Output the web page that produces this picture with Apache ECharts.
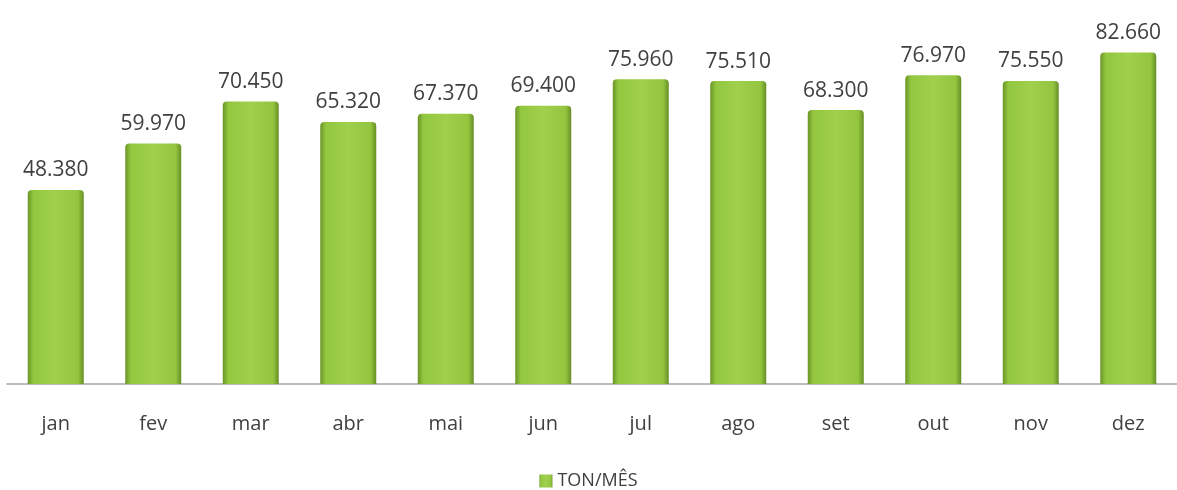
<!DOCTYPE html>
<html>
<head>
<meta charset="utf-8">
<script src="https://cdn.jsdelivr.net/npm/echarts@6/dist/echarts.min.js"></script>
<style>html,body{margin:0;padding:0;background:#fff}#c{width:1177px;height:490px}</style>
</head>
<body>
<div id="c"></div>
<script>
const categories = ['jan','fev','mar','abr','mai','jun','jul','ago','set','out','nov','dez'];
const tonMes = [48380, 59970, 70450, 65320, 67370, 69400, 75960, 75510, 68300, 76970, 75550, 82660];
const seriesName = 'TON/MÊS';

function fmt(v){ return String(v).replace(/\B(?=(\d{3})+(?!\d))/g, '.'); }

const chart = echarts.init(document.getElementById('c'));
chart.setOption({
  animation: false,
  textStyle: { fontFamily: '"Open Sans", Lato, sans-serif' },
  grid: { left: 7, right: 0, top: 23, bottom: 106, containLabel: false },
  legend: {
    data: [seriesName], top: 467, left: 'center',
    itemWidth: 13, itemHeight: 13, icon: 'rect', itemGap: 4,
    textStyle: { fontSize: 18, color: '#404040', fontFamily: '"Open Sans", sans-serif' }
  },
  xAxis: {
    type: 'category', data: categories,
    axisLine: { lineStyle: { color: '#a6a6a6', width: 1.5 } },
    axisTick: { show: false },
    axisLabel: { fontSize: 20, color: '#404040', margin: 30 }
  },
  yAxis: { type: 'value', min: 0, max: 90000, show: false, splitLine: { show: false } },
  series: [{
    name: seriesName, type: 'bar', data: tonMes, barWidth: 56,
    itemStyle: {
      color: new echarts.graphic.LinearGradient(0, 0, 1, 0, [
        { offset: 0, color: '#6a9528' },
        { offset: 0.1, color: '#93c73f' },
        { offset: 0.5, color: '#a0d04c' },
        { offset: 0.9, color: '#93c53f' },
        { offset: 1, color: '#668f25' }
      ]),
      borderRadius: [4, 4, 0, 0]
    },
    label: {
      show: true, position: 'top', distance: 9,
      fontSize: 21, color: '#404040',
      fontFamily: '"Open Sans", sans-serif',
      formatter: p => fmt(p.value)
    }
  }]
});
</script>
</body>
</html>
